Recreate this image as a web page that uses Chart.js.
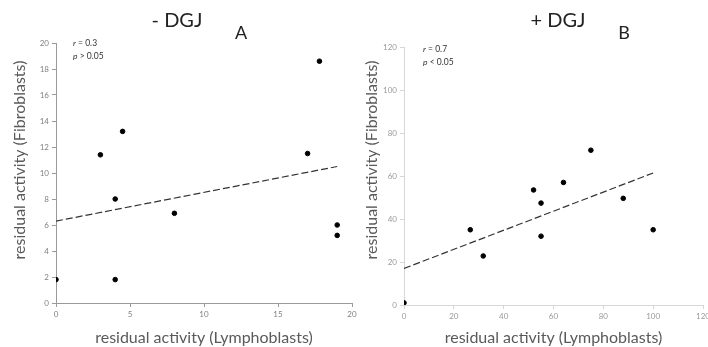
<!DOCTYPE html>
<html>
<head>
<meta charset="utf-8">
<script src="https://cdn.jsdelivr.net/npm/chart.js@4.4.0/dist/chart.umd.min.js"></script>
<style>
  html, body { margin: 0; padding: 0; background: #fff; overflow: hidden; }
  #wrap { position: relative; width: 716px; height: 347px; }
  .panel { position: absolute; top: 0; height: 347px; }
  #panelA { left: 0; width: 360px; }
  #panelB { left: 360px; width: 356px; }
</style>
</head>
<body>
<div id="wrap">
  <div class="panel" id="panelA"><canvas id="chartA"></canvas></div>
  <div class="panel" id="panelB"><canvas id="chartB"></canvas></div>
</div>
<script>
// residual activity without DGJ
var lymphA = [3, 4.5, 17.8, 17, 4, 8, 19, 19, 0, 4];
var fibroA = [11.4, 13.2, 18.6, 11.5, 8, 6.9, 6, 5.2, 1.8, 1.8];
var trendAx = [0, 19];
var trendAy = [6.3, 10.5];

// residual activity with DGJ
var lymphB = [0, 26.6, 31.8, 52, 55, 55, 64, 75, 88, 100];
var fibroB = [1, 35, 22.8, 53.5, 47.4, 32, 57, 72, 49.6, 35];
var trendBx = [0, 100];
var trendBy = [17, 61.4];

function toPoints(xs, ys){
  return xs.map(function(x, i){ return {x: x, y: ys[i]} })
}

/*=========================-- titles, y label, r / p -=======================*/
var panelText = {
  id: 'panelText',
  afterDraw(chart, args, o) {
    const {ctx, chartArea: {left, top}} = chart;
    ctx.save();
    ctx.textBaseline = 'middle';
    ctx.textAlign = 'center';
    ctx.fillStyle = '#222';
    ctx.font = '20px Lato';
    ctx.fillText(o.title, o.titleX, 21);
    ctx.font = '18px Lato';
    ctx.fillText(o.letter, o.letterX, 33);

    ctx.save();
    ctx.translate(o.yTitleX, 160);
    ctx.rotate(-Math.PI / 2);
    ctx.font = '16px Lato';
    ctx.fillStyle = '#5a5a5a';
    ctx.fillText('residual activity (Fibroblasts)', 0, 0);
    ctx.restore();

    ctx.textAlign = 'left';
    ctx.fillStyle = '#333';
    o.stats.forEach(function(s, i){
      let x = left + o.statsDx;
      const y = top + o.statsDy + i * 13;
      ctx.font = 'italic 8.5px Lato';
      ctx.fillText(s[0], x, y);
      x += ctx.measureText(s[0]).width;
      ctx.font = '8.5px Lato';
      ctx.fillText(s[1], x, y);
    });
    ctx.restore();
  }
}

function makeConfig(xs, ys, tx, ty, max, xStep, yStep, axisColor, tickColor, xw, xh, pad, text){
  return {
    type: 'scatter',
    data: {
      datasets: [{
        data: toPoints(xs, ys),
        backgroundColor: '#000',
        borderColor: '#000',
        pointRadius: 2.3,
        pointHoverRadius: 2.3
      }, {
        type: 'line',
        data: toPoints(tx, ty),
        borderColor: '#333',
        borderWidth: 1.2,
        borderDash: [7, 3],
        pointRadius: 0,
        fill: false
      }]
    },
    options: {
      responsive: true,
      maintainAspectRatio: false,
      animation: false,
      layout: { padding: pad },
      plugins: {
        legend: { display: false },
        tooltip: { enabled: false },
        panelText: text
      },
      scales: {
        x: {
          type: 'linear',
          min: 0, max: max[0],
          afterFit(scale){ scale.height = xh },
          border: { color: axisColor, width: 1 },
          grid: { drawOnChartArea: false, tickLength: 4, color: axisColor },
          ticks: { stepSize: xStep, color: tickColor, font: { family: 'Lato', size: 8 }, padding: 3, maxRotation: 0 },
          title: {
            display: true,
            text: 'residual activity (Lymphoblasts)',
            color: '#5a5a5a',
            font: { family: 'Lato', size: 16 },
            padding: { top: 0, bottom: 0 }
          }
        },
        y: {
          min: 0, max: max[1],
          afterFit(scale){ scale.width = xw },
          border: { color: axisColor, width: 1 },
          grid: { drawOnChartArea: false, tickLength: 4, color: axisColor },
          ticks: { stepSize: yStep, color: tickColor, font: { family: 'Lato', size: 8 }, padding: 3 }
        }
      }
    },
    plugins: [panelText]
  }
}

new Chart(document.getElementById('chartA'), makeConfig(
  lymphA, fibroA, trendAx, trendAy, [20, 20], 5, 2, '#9a9a9a', '#808080',
  56, 44, { top: 43, right: 8, left: 0, bottom: 0 },
  { title: '- DGJ', titleX: 177, letter: 'A', letterX: 241, yTitleX: 20,
    statsDx: 17, statsDy: 0, stats: [['r', ' = 0.3'], ['p', ' > 0.05']] }
));

new Chart(document.getElementById('chartB'), makeConfig(
  lymphB, fibroB, trendBx, trendBy, [120, 120], 20, 20, '#d6d6d6', '#9a9a9a',
  44, 42, { top: 47, right: 13, left: 0, bottom: 0 },
  { title: '+ DGJ', titleX: 198, letter: 'B', letterX: 264, yTitleX: 12,
    statsDx: 19, statsDy: 2, stats: [['r', ' = 0.7'], ['p', ' < 0.05']] }
));
</script>
</body>
</html>
